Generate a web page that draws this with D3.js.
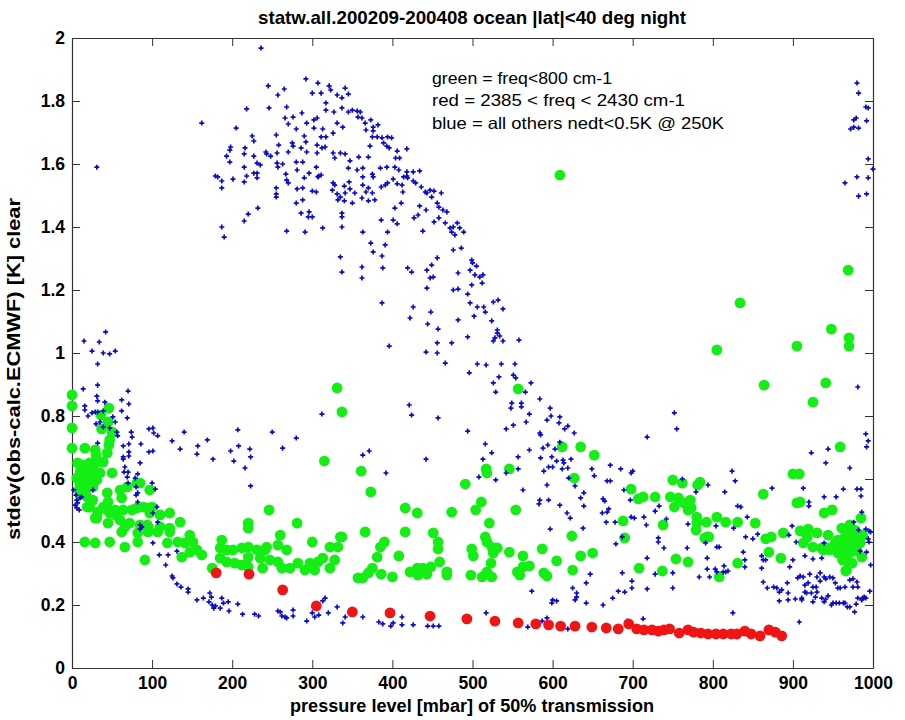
<!DOCTYPE html>
<html><head><meta charset="utf-8">
<script src="https://cdn.jsdelivr.net/npm/d3@7"></script>
<style>
html,body{margin:0;padding:0;background:#fff;}
svg{display:block;}
.tick text{font-family:"Liberation Sans",Arial,sans-serif;font-weight:bold;font-size:17.5px;fill:#000;}
</style></head>
<body><svg id="c" width="905" height="720"></svg>
<script>
const xTicks=[0,100,200,300,400,500,600,700,800,900,1000];
const yTicks=[0,0.2,0.4,0.6,0.8,1,1.2,1.4,1.6,1.8,2];
const yTickLabels=["0","0.2","0.4","0.6","0.8","1","1.2","1.4","1.6","1.8","2"];
const titleText="statw.all.200209-200408 ocean |lat|<40 deg night";
const xLabel="pressure level [mbar] of 50% transmission";
const yLabel="stdev(obs-calc.ECMWF) [K] clear";
const legendLines=["green = freq<800 cm-1","red = 2385 < freq < 2430 cm-1","blue = all others nedt<0.5K @ 250K"];

const redPts=[[180,0.302],[221,0.298],[263,0.248],[305,0.197],[350,0.178],[397,0.175],[447,0.165],[493,0.156],[528,0.149],[557,0.143],[579,0.140],[595,0.137],[610,0.133],[628,0.133],[649,0.130],[667,0.127],[682,0.124],[695,0.140],[705,0.124],[714,0.121],[724,0.121],[732,0.117],[739,0.121],[746,0.124],[758,0.111],[769,0.121],[776,0.114],[785,0.111],[794,0.108],[804,0.108],[813,0.108],[823,0.108],[830,0.108],[840,0.117],[848,0.108],[859,0.102],[870,0.121],[878,0.114],[886,0.102]];

const greenPts=[[0,0.867],[0,0.832],[0,0.762],[0,0.698],[16,0.698],[46,0.825],[36,0.803],[45,0.781],[37,0.759],[50,0.749],[47,0.724],[46,0.708],[44,0.683],[29,0.692],[30,0.676],[7,0.651],[14,0.644],[22,0.651],[26,0.638],[32,0.654],[39,0.654],[10,0.622],[19,0.622],[26,0.619],[35,0.619],[50,0.619],[6,0.603],[14,0.597],[22,0.597],[31,0.597],[10,0.575],[19,0.571],[26,0.575],[10,0.556],[19,0.543],[26,0.533],[44,0.556],[45,0.527],[62,0.540],[69,0.575],[81,0.587],[85,0.587],[97,0.565],[64,0.502],[39,0.511],[54,0.502],[19,0.511],[31,0.476],[47,0.492],[60,0.470],[75,0.502],[81,0.508],[95,0.508],[97,0.492],[110,0.486],[122,0.492],[135,0.463],[122,0.444],[110,0.448],[95,0.448],[85,0.454],[72,0.460],[220,0.460],
[10,0.587],[60,0.565],[22,0.511],[32,0.495],[44,0.502],[54,0.486],[89,0.511],[100,0.511],[29,0.476],[45,0.460],[66,0.448],[62,0.432],[82,0.429],[95,0.432],[107,0.432],[94,0.454],[122,0.432],[119,0.397],[132,0.400],[147,0.422],[141,0.397],[151,0.400],[156,0.375],[147,0.368],[137,0.352],[162,0.359],[16,0.400],[29,0.397],[47,0.400],[66,0.384],[82,0.400],[91,0.343],[246,0.502],[220,0.444],[281,0.460],[260,0.422],[300,0.400],[335,0.416],[322,0.384],[332,0.384],[175,0.317],[187,0.406],[185,0.381],[193,0.375],[201,0.375],[212,0.381],[220,0.384],[220,0.352],[231,0.375],[241,0.375],[243,0.384],[257,0.390],[268,0.375],[185,0.349],[193,0.337],[203,0.333],[212,0.327],[220,0.321],[235,0.349],[238,0.317],[247,0.343],[257,0.337],[262,0.317],[272,0.317],[282,0.333],[291,0.311],[297,0.333],[303,0.311],[307,0.337],[313,0.349],[322,0.317],[328,0.343],[357,0.286],
[337,0.813],[331,0.889],[315,0.657],[361,0.625],[373,0.559],[416,0.508],[431,0.492],[474,0.495],[337,0.416],[366,0.432],[385,0.384],[390,0.400],[381,0.352],[408,0.356],[416,0.432],[451,0.429],[457,0.400],[457,0.378],[459,0.337],[375,0.317],[370,0.302],[363,0.286],[386,0.298],[400,0.289],[422,0.305],[431,0.317],[438,0.317],[432,0.295],[443,0.298],[448,0.321],[468,0.305],[468,0.295],[491,0.584],[504,0.502],[511,0.527],[517,0.632],[518,0.619],[546,0.632],[521,0.460],[516,0.416],[518,0.400],[524,0.384],[531,0.381],[526,0.365],[499,0.378],[501,0.356],[498,0.295],[512,0.289],[518,0.305],[523,0.333],[524,0.289],[546,0.368],[563,0.356],[556,0.305],[559,0.295],[563,0.321],[571,0.324],[554,0.502],[587,0.378],[589,0.302],[593,0.292],[605,0.340],[612,0.702],[635,0.702],[652,0.676],[627,0.603],[624,0.419],[625,0.311],[635,0.356],[650,0.365],[688,0.467],[690,0.413],[698,0.568],[707,0.537],[708,0.317],[557,0.886],[609,1.565],
[864,0.898],[941,0.905],[925,0.844],[959,0.702],[900,0.616],[908,0.616],[863,0.552],[905,0.524],[713,0.543],[728,0.543],[747,0.543],[757,0.540],[750,0.597],[762,0.587],[784,0.590],[781,0.581],[764,0.524],[752,0.511],[772,0.533],[769,0.502],[773,0.508],[738,0.454],[780,0.479],[780,0.460],[779,0.438],[792,0.463],[805,0.479],[816,0.463],[831,0.463],[853,0.460],[793,0.416],[795,0.416],[790,0.413],[754,0.346],[769,0.337],[737,0.308],[831,0.333],[808,0.289],[866,0.410],[873,0.416],[888,0.429],[870,0.368],[885,0.349],[909,0.435],[919,0.441],[918,0.416],[913,0.397],[930,0.429],[925,0.384],[939,0.492],[949,0.502],[944,0.422],[938,0.375],[946,0.375],[985,0.476],[986,0.352],[967,0.311],[909,0.527],[936,0.381],[945,0.381],[953,0.397],[961,0.444],[970,0.432],[967,0.397],[980,0.406],[984,0.397],[971,0.365],[962,0.343],[974,0.333],[966,0.308],[959,0.384],[975,0.384],[965,0.416],[975,0.416],[956,0.406],[971,0.454],[977,0.438],[962,0.375],[980,0.371],[968,0.343],[956,0.365],[987,0.422],
[969,1.263],[948,1.076],[970,1.048],[970,1.022],[905,1.022],[834,1.159],[805,1.010]];

const bluePts=[[236,1.968],[292,1.870],[307,1.857],[321,1.848],[341,1.841],[245,1.848],[265,1.838],[257,1.819],[300,1.825],[311,1.825],[323,1.835],[331,1.819],[337,1.810],[345,1.822],[218,1.775],[246,1.778],[268,1.781],[287,1.762],[317,1.794],[317,1.771],[327,1.765],[337,1.778],[345,1.765],[350,1.771],[356,1.768],[360,1.765],[357,1.749],[362,1.746],[162,1.730],[205,1.714],[266,1.746],[276,1.749],[293,1.730],[302,1.740],[306,1.746],[331,1.730],[338,1.717],[366,1.730],[373,1.740],[376,1.717],[382,1.724],[270,1.727],[280,1.711],[302,1.714],[313,1.711],[326,1.698],[367,1.708],[376,1.705],[255,1.692],[225,1.689],[227,1.673],[290,1.689],[311,1.686],[317,1.686],[375,1.686],[381,1.686],[387,1.683],[394,1.686],[399,1.683],[389,1.667],[393,1.657],[396,1.651],[406,1.641],[418,1.648],[292,1.670],[275,1.667],[276,1.657],[258,1.660],[306,1.660],[312,1.651],[372,1.657],[198,1.654],[216,1.651],[197,1.644],[242,1.638],[243,1.632],[193,1.625],[215,1.632],[227,1.625],[248,1.625],[256,1.635],[270,1.638],[286,1.651],[293,1.638],[306,1.635],[316,1.654],[326,1.635],[335,1.635],[341,1.632],[347,1.610],[358,1.622],[370,1.622],[404,1.619],[409,1.619],[197,1.606],[215,1.590],[231,1.603],[235,1.597],[227,1.571],[231,1.571],[256,1.603],[263,1.600],[257,1.590],[267,1.568],[280,1.606],[288,1.606],[281,1.581],[296,1.571],[305,1.590],[307,1.559],[311,1.565],[328,1.619],[345,1.587],[356,1.581],[363,1.587],[375,1.568],[385,1.587],[393,1.590],[403,1.590],[408,1.581],[418,1.575],[414,1.559],[418,1.562],[426,1.575],[434,1.578],[179,1.562],[182,1.559],[187,1.546],[201,1.552],[218,1.562],[215,1.543],[231,1.556],[268,1.549],[270,1.540],[290,1.556],[308,1.562],[326,1.540],[328,1.533],[340,1.530],[346,1.543],[363,1.559],[376,1.559],[386,1.527],[391,1.533],[394,1.540],[401,1.552],[406,1.537],[412,1.533],[419,1.556],[426,1.546],[429,1.540],[187,1.524],[255,1.524],[255,1.505],[255,1.495],[281,1.521],[288,1.524],[300,1.514],[305,1.511],[325,1.517],[331,1.505],[335,1.495],[341,1.508],[347,1.521],[353,1.508],[363,1.533],[367,1.511],[370,1.524],[375,1.508],[413,1.511],[436,1.527],[441,1.511],[443,1.508],[447,1.517],[449,1.495],[452,1.514],[461,1.508],[332,1.486],[340,1.483],[350,1.476],[362,1.492],[370,1.483],[378,1.486],[280,1.476],[288,1.486],[403,1.460],[411,1.476],[456,1.476],[458,1.463],[463,1.454],[468,1.448],[232,1.460],[286,1.444],[296,1.448],[300,1.432],[295,1.432],[337,1.444],[337,1.432],[386,1.422],[401,1.422],[406,1.410],[427,1.429],[432,1.438],[442,1.454],[434,1.467],[452,1.416],[458,1.429],[466,1.413],[472,1.397],[476,1.400],[474,1.384],[478,1.375],[481,1.413],[220,1.441],[215,1.419],[187,1.400],[190,1.368],[268,1.387],[291,1.384],[313,1.397],[337,1.400],[363,1.384],[394,1.384],[438,1.387],[373,1.349],[376,1.321],[391,1.343],[387,1.308],[335,1.305],[337,1.257],[362,1.273],[362,1.238],[388,1.270],[419,1.270],[424,1.257],[443,1.263],[449,1.279],[456,1.302],[476,1.327],[447,1.238],[451,1.241],[482,1.254],[31,1.590],
[484,1.397],[489,1.384],[486,1.333],[499,1.295],[500,1.286],[505,1.276],[497,1.263],[503,1.248],[509,1.241],[513,1.248],[512,1.222],[499,1.216],[443,1.206],[476,1.200],[482,1.203],[494,1.187],[497,1.159],[506,1.146],[514,1.146],[516,1.130],[526,1.162],[532,1.168],[538,1.140],[502,1.117],[482,1.105],[524,1.102],[531,1.073],[531,1.063],[528,1.048],[534,1.054],[538,1.038],[526,1.038],[558,1.041],[426,1.146],[422,1.111],[448,1.130],[444,1.092],[457,1.076],[494,1.051],[456,1.032],[474,1.032],[442,1.003],[456,1.000],[466,0.968],[396,1.022],[506,0.965],[517,0.962],[536,0.965],[553,0.965],[496,0.937],[526,0.905],[533,0.924],[551,0.930],[554,0.921],[573,0.905],[529,0.876],[566,0.876],[584,0.854],[387,1.159],
[15,1.038],[34,1.035],[42,1.067],[25,1.006],[39,1.000],[47,0.997],[54,1.006],[32,0.965],[14,0.886],[32,0.898],[70,0.879],[31,0.863],[32,0.848],[41,0.844],[62,0.851],[71,0.838],[62,0.816],[69,0.794],[16,0.832],[16,0.819],[20,0.800],[25,0.810],[29,0.813],[32,0.813],[39,0.816],[51,0.797],[54,0.781],[35,0.781],[30,0.775],[39,0.765],[47,0.762],[56,0.749],[57,0.737],[74,0.749],[75,0.733],[96,0.759],[101,0.762],[102,0.746],[107,0.737],[64,0.705],[71,0.711],[86,0.711],[125,0.721],[140,0.749],[135,0.695],[157,0.705],[169,0.724],[156,0.679],[176,0.663],[96,0.686],[101,0.689],[71,0.686],[71,0.673],[64,0.670],[85,0.651],[32,0.714],[64,0.663],[66,0.638],[65,0.622],[70,0.622],[82,0.616],[69,0.606],[79,0.603],[70,0.587],[100,0.587],[104,0.568],[80,0.575],[82,0.556],[106,0.511],[101,0.492],[87,0.448],[82,0.527],[198,0.689],[202,0.657],[207,0.756],[208,0.705],[216,0.635],[222,0.695],[223,0.670],[223,0.578],[26,0.565],[6,0.533],[7,0.524],[10,0.540],[12,0.543],[6,0.508],[4,0.517],[9,0.502],[5,0.549],[2,0.565],[250,0.749],[263,0.698],[280,0.730],[312,0.806],
[80,0.549],[107,0.463],[85,0.454],[85,0.441],[101,0.397],[131,0.371],[109,0.359],[120,0.359],[117,0.327],[125,0.292],[126,0.286],[131,0.267],[136,0.257],[145,0.251],[145,0.241],[156,0.216],[164,0.222],[172,0.238],[174,0.225],[171,0.210],[175,0.200],[179,0.197],[177,0.190],[187,0.222],[189,0.206],[185,0.190],[195,0.210],[196,0.181],[207,0.203],[213,0.171],[228,0.171],[233,0.165],[257,0.181],[260,0.178],[262,0.165],[266,0.162],[268,0.159],[276,0.184],[276,0.165],[293,0.149],[300,0.175],[303,0.162],[308,0.168],[313,0.213],[316,0.222],[320,0.175],[331,0.194],[341,0.162],[338,0.143],
[421,0.835],[424,0.803],[457,0.794],[549,0.841],[561,0.841],[548,0.825],[561,0.829],[571,0.806],[597,0.825],[598,0.800],[609,0.797],[593,0.787],[567,0.781],[608,0.778],[551,0.771],[542,0.759],[619,0.768],[615,0.759],[627,0.746],[494,0.752],[584,0.746],[585,0.740],[516,0.711],[594,0.708],[588,0.698],[603,0.695],[609,0.717],[571,0.692],[371,0.689],[363,0.676],[524,0.683],[513,0.663],[557,0.670],[585,0.667],[599,0.670],[605,0.657],[613,0.660],[614,0.651],[623,0.663],[442,0.663],[595,0.638],[600,0.638],[612,0.632],[619,0.635],[557,0.632],[589,0.625],[542,0.619],[392,0.619],[508,0.606],[529,0.597],[620,0.603],[649,0.632],[652,0.610],[672,0.644],[685,0.632],[698,0.619],[700,0.625],[668,0.594],[672,0.594],[593,0.581],[628,0.578],[563,0.565],[689,0.565],[639,0.556],[635,0.540],[584,0.533],[595,0.533],[663,0.537],[665,0.530],[697,0.533],[583,0.521],[609,0.517],[639,0.514],[670,0.505],[668,0.495],[662,0.492],[618,0.492],[622,0.476],[667,0.463],[678,0.463],[698,0.479],[702,0.476],[638,0.444],[597,0.441],[687,0.416],[679,0.394],[687,0.302],[699,0.276],[699,0.254],[690,0.241],[682,0.244],[675,0.222],[663,0.200],[647,0.298],[642,0.270],[625,0.254],[630,0.238],[630,0.225],[628,0.216],[642,0.206],[600,0.216],[599,0.206],[605,0.213],[574,0.244],[593,0.159],[587,0.149],[569,0.130],[619,0.124],[517,0.175],[363,0.162],[383,0.146],[388,0.140],[401,0.143],[398,0.133],[412,0.162],[412,0.137],[426,0.137],[444,0.133],[451,0.133],[458,0.133],[693,0.149],
[981,0.892],[752,0.810],[755,0.759],[718,0.733],[991,0.743],[994,0.721],[992,0.702],[944,0.695],[923,0.683],[941,0.651],[971,0.635],[824,0.625],[828,0.594],[762,0.600],[794,0.581],[779,0.559],[815,0.559],[874,0.571],[913,0.571],[963,0.568],[980,0.568],[985,0.568],[985,0.546],[939,0.543],[954,0.543],[920,0.527],[920,0.514],[733,0.514],[728,0.498],[742,0.473],[831,0.514],[835,0.511],[843,0.479],[986,0.495],[804,0.451],[714,0.479],[717,0.454],[826,0.444],[769,0.457],[841,0.416],[856,0.425],[850,0.410],[899,0.451],[904,0.400],[895,0.422],[991,0.441],[995,0.435],[997,0.432],[982,0.438],[791,0.397],[805,0.384],[808,0.384],[768,0.381],[732,0.413],[732,0.400],[739,0.381],[718,0.349],[838,0.368],[840,0.343],[840,0.321],[793,0.349],[793,0.314],[783,0.289],[796,0.289],[803,0.314],[805,0.305],[814,0.324],[816,0.305],[813,0.305],[819,0.308],[750,0.302],[728,0.298],[861,0.356],[863,0.343],[866,0.343],[861,0.317],[896,0.321],[900,0.343],[915,0.356],[925,0.346],[936,0.349],[906,0.286],[909,0.292],[921,0.298],[930,0.289],[934,0.302],[934,0.276],[939,0.289],[946,0.289],[956,0.254],[953,0.270],[971,0.279],[975,0.283],[975,0.257],[980,0.273],[981,0.257],[996,0.244],[893,0.270],[880,0.254],[886,0.248],[915,0.263],[919,0.270],[925,0.257],[915,0.241],[863,0.273],[868,0.254],[876,0.257],[883,0.241],[894,0.238],[903,0.219],[911,0.216],[923,0.238],[928,0.225],[936,0.222],[939,0.210],[944,0.229],[948,0.200],[958,0.206],[963,0.206],[968,0.194],[979,0.203],[981,0.222],[986,0.216],[987,0.222],[991,0.222],[883,0.213],[894,0.216],[718,0.251],[750,0.254],[825,0.175],[908,0.146],[977,0.178],[713,0.156],
[992,0.368],[997,0.327],[984,0.371],[995,0.400],[994,0.410],[976,0.463],[939,0.397],[925,0.210],[954,0.206],[965,0.257],[959,0.254],[950,0.286],[941,0.283],[929,0.257],[913,0.289],[930,0.241],[917,0.238],[911,0.222],[941,0.219],[950,0.206],[965,0.206],[971,0.194],[989,0.225],
[980,1.857],[982,1.825],[991,1.781],[994,1.778],[979,1.746],[976,1.740],[992,1.737],[972,1.711],[976,1.717],[982,1.714],[994,1.616],[1000,1.584],[980,1.559],[994,1.556],[965,1.540],[982,1.498],[992,1.505]];

const svg=d3.select("#c");
const x=d3.scaleLinear().domain([0,1000]).range([72,873]);
const y=d3.scaleLinear().domain([0,2]).range([668,38]);

// axes (ticks inside, box)
const axCol="#333";
const gB=svg.append("g").attr("transform",`translate(0,${y(0)})`)
  .call(d3.axisBottom(x).tickValues(xTicks).tickFormat(d3.format("d")).tickSize(-8).tickSizeOuter(0).tickPadding(9));
const gL=svg.append("g").attr("transform",`translate(${x(0)},0)`)
  .call(d3.axisLeft(y).tickValues(yTicks).tickFormat((d,i)=>yTickLabels[i]).tickSize(-8).tickSizeOuter(0).tickPadding(7));
const gT=svg.append("g").attr("transform",`translate(0,${y(2)})`)
  .call(d3.axisTop(x).tickValues(xTicks).tickFormat("").tickSize(-8).tickSizeOuter(0));
const gR=svg.append("g").attr("transform",`translate(${x(1000)},0)`)
  .call(d3.axisRight(y).tickValues(yTicks).tickFormat("").tickSize(-8).tickSizeOuter(0));
[gB,gL,gT,gR].forEach(g=>{g.selectAll("path.domain").attr("stroke",axCol).attr("stroke-width",1.2);g.selectAll(".tick line").attr("stroke",axCol).attr("stroke-width",1);});

// markers
const plot=svg.append("g");
plot.selectAll("circle.g").data(greenPts).join("circle").attr("class","g")
  .attr("cx",d=>x(d[0])).attr("cy",d=>y(d[1])).attr("r",5.4).attr("fill","#14ee14");
const cross=d3.symbol().type(d3.symbolCross).size(14);
plot.selectAll("path.b").data(bluePts).join("path").attr("class","b")
  .attr("d",cross).attr("transform",d=>`translate(${x(d[0])},${y(d[1])})`).attr("fill","#0a0ac8");
plot.selectAll("circle.r").data(redPts).join("circle").attr("class","r")
  .attr("cx",d=>x(d[0])).attr("cy",d=>y(d[1])).attr("r",5.4).attr("fill","#f01414");

// texts
const font='"Liberation Sans",Arial,sans-serif';
svg.append("text").attr("x",472).attr("y",24).attr("text-anchor","middle")
  .attr("font-family",font).attr("font-weight","bold").attr("font-size",18.5)
  .attr("textLength",428).attr("lengthAdjust","spacingAndGlyphs").text(titleText);
svg.append("text").attr("x",472).attr("y",712).attr("text-anchor","middle")
  .attr("font-family",font).attr("font-weight","bold").attr("font-size",18)
  .attr("textLength",364).attr("lengthAdjust","spacingAndGlyphs").text(xLabel);
svg.append("text").attr("transform","translate(20,369) rotate(-90)").attr("text-anchor","middle")
  .attr("font-family",font).attr("font-weight","bold").attr("font-size",18)
  .attr("textLength",342).attr("lengthAdjust","spacingAndGlyphs").text(yLabel);
const legendWidths=[180,253,292];
legendLines.forEach((t,i)=>{
  svg.append("text").attr("x",432).attr("y",84+i*22.3)
    .attr("font-family",font).attr("font-size",16.5).attr("fill","#000")
    .attr("textLength",legendWidths[i]).attr("lengthAdjust","spacingAndGlyphs").text(t);
});
</script></body></html>
